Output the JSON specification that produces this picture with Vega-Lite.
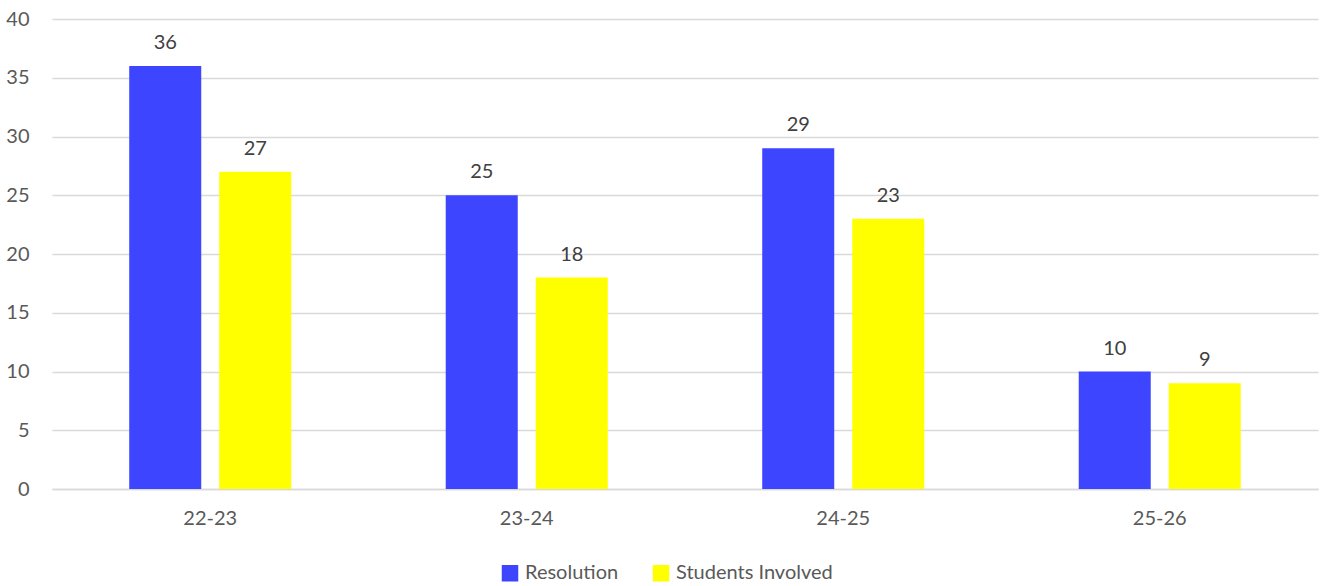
{
  "$schema": "https://vega.github.io/schema/vega-lite/v6.json",
  "autosize": {"type": "none"},
  "width": 1266,
  "height": 470,
  "padding": {"left": 52, "top": 19, "right": 10, "bottom": 97},
  "background": "white",
  "data": {"values": [
    {"year": "22-23", "series": "Resolution", "value": 36},
    {"year": "22-23", "series": "Students Involved", "value": 27},
    {"year": "23-24", "series": "Resolution", "value": 25},
    {"year": "23-24", "series": "Students Involved", "value": 18},
    {"year": "24-25", "series": "Resolution", "value": 29},
    {"year": "24-25", "series": "Students Involved", "value": 23},
    {"year": "25-26", "series": "Resolution", "value": 10},
    {"year": "25-26", "series": "Students Involved", "value": 9}
  ]},
  "config": {
    "font": "Lato",
    "view": {"stroke": null},
    "axis": {"labelColor": "#595959", "labelFontSize": 20, "titleColor": "#595959"}
  },
  "encoding": {
    "x": {"field": "year", "type": "nominal", "title": null,
      "scale": {"paddingInner": 0.488, "paddingOuter": 0.244},
      "axis": {"labelAngle": 0, "domainColor": "#d9d9d9", "domainWidth": 1.5, "ticks": false, "labelPadding": 19}},
    "xOffset": {"field": "series", "type": "nominal", "scale": {"paddingInner": 0.2}},
    "y": {"field": "value", "type": "quantitative", "title": null,
      "scale": {"domain": [0, 40], "nice": false},
      "axis": {"values": [0, 5, 10, 15, 20, 25, 30, 35, 40], "labelOverlap": false, "domain": false, "ticks": false, "gridColor": "#d9d9d9", "gridWidth": 1.5, "labelPadding": 23}}
  },
  "layer": [
    {
      "mark": {"type": "bar"},
      "encoding": {
        "color": {
          "field": "series", "type": "nominal", "title": null,
          "scale": {"domain": ["Resolution", "Students Involved"], "range": ["#3D45FF", "#FFFF00"]},
          "legend": {
            "orient": "none", "legendX": 448, "legendY": 544, "direction": "horizontal", "columns": 2,
            "symbolType": "square", "symbolSize": 225, "symbolStrokeWidth": 1.5, "labelFontSize": 20, "labelColor": "#595959",
            "labelOffset": 5, "columnPadding": 31,
            "encode": {
              "symbols": {
                "update": {
                  "fill": [{"test": "datum.value === 'Resolution'", "value": "#4472C4"}, {"value": "#FFFF00"}],
                  "stroke": [{"test": "datum.value === 'Resolution'", "value": "#3D45FF"}, {"value": "#FFFF00"}]
                }
              }
            }
          }
        }
      }
    },
    {
      "mark": {"type": "text", "baseline": "alphabetic", "dy": -17, "fontSize": 20, "color": "#404040"},
      "encoding": {"text": {"field": "value", "type": "quantitative"}}
    }
  ]
}
